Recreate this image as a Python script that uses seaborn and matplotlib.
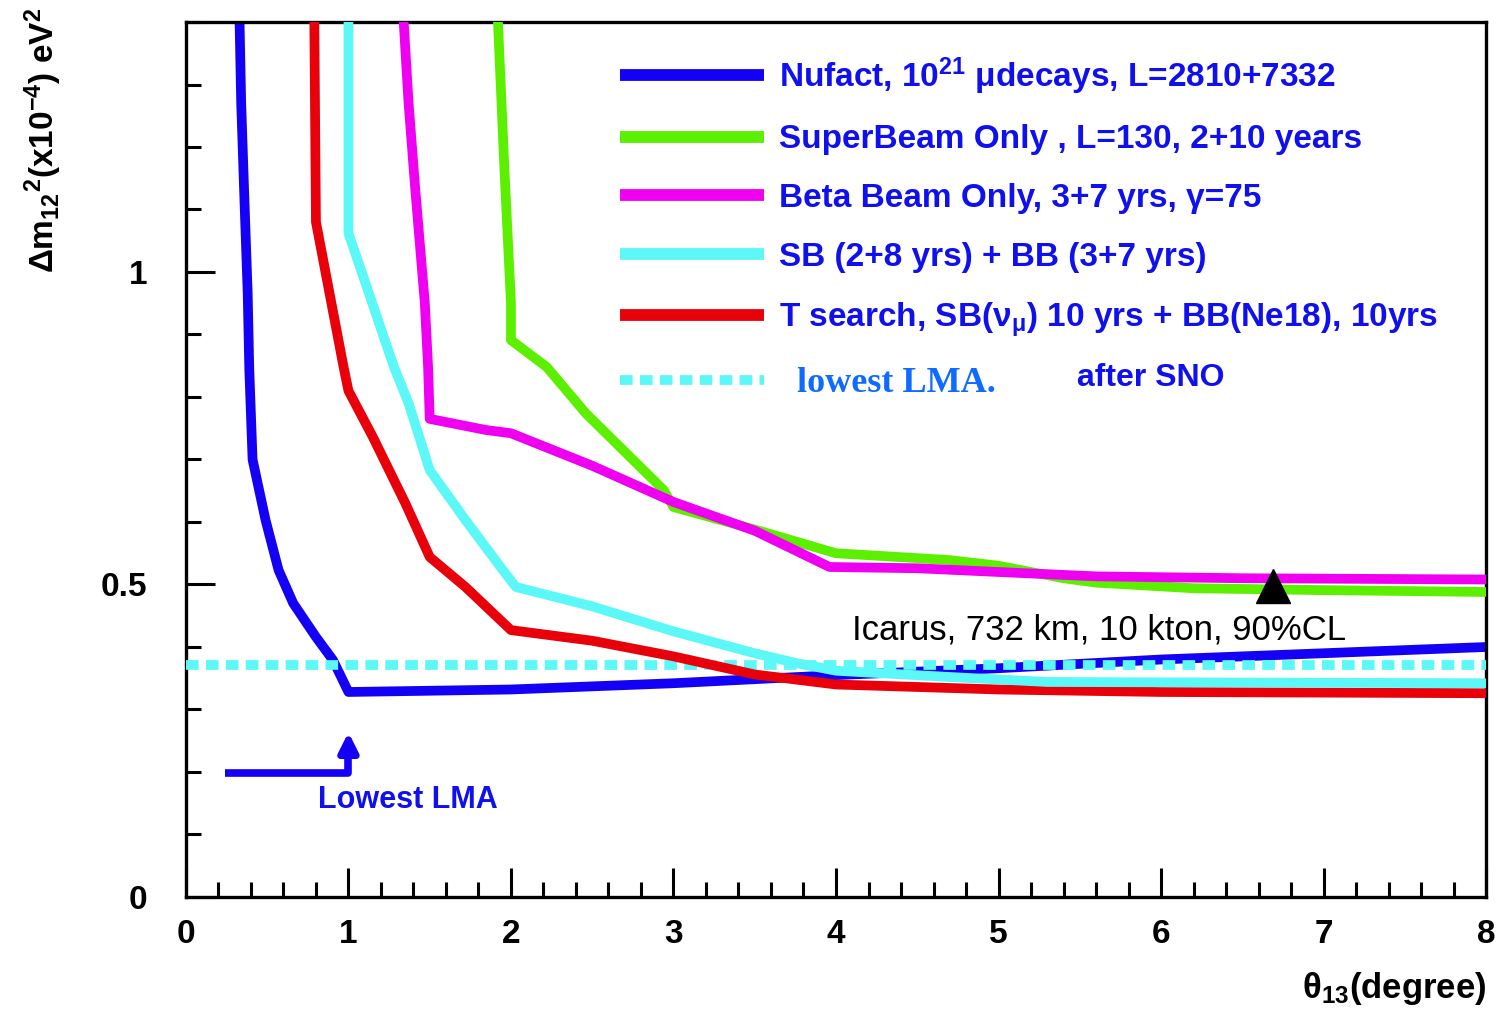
import numpy as np
import pandas as pd
import seaborn as sns
import matplotlib
import matplotlib.pyplot as plt
from matplotlib.lines import Line2D
from matplotlib.ticker import MultipleLocator

# ---------------- data ----------------
nufact_x = [0.33, 0.34, 0.36, 0.38, 0.39, 0.41, 0.49, 0.57, 0.66, 0.80, 0.905, 1.0, 2.0, 3.0, 4.0, 5.0, 6.0, 7.0, 8.0]
nufact_y = [1.40, 1.27, 1.115, 0.966, 0.843, 0.70, 0.603, 0.523, 0.47, 0.416, 0.379, 0.328, 0.332, 0.342, 0.355, 0.366, 0.380, 0.390, 0.400]

sb_x = [1.92, 1.96, 2.0, 2.0, 2.22, 2.46, 2.94, 3.0, 3.5, 4.0, 4.7, 5.0, 5.4, 5.6, 6.2, 7.0, 8.0]
sb_y = [1.40, 1.163, 0.95, 0.891, 0.848, 0.774, 0.651, 0.624, 0.588, 0.550, 0.539, 0.530, 0.510, 0.503, 0.494, 0.491, 0.488]

bb_x = [1.34, 1.37, 1.41, 1.47, 1.49, 1.50, 1.85, 2.0, 2.5, 3.0, 3.5, 3.96, 4.5, 5.0, 5.6, 6.5, 8.0]
bb_y = [1.40, 1.27, 1.136, 0.95, 0.848, 0.765, 0.747, 0.742, 0.690, 0.632, 0.586, 0.528, 0.526, 0.520, 0.513, 0.510, 0.508]

sbbb_x = [1.0, 1.0, 1.28, 1.37, 1.50, 1.72, 1.95, 2.03, 2.5, 3.0, 3.5, 3.76, 4.0, 4.7, 5.3, 8.0]
sbbb_y = [1.40, 1.062, 0.848, 0.79, 0.683, 0.603, 0.523, 0.496, 0.465, 0.425, 0.390, 0.374, 0.362, 0.352, 0.344, 0.342]

tsearch_x = [0.79, 0.80, 0.97, 1.0, 1.15, 1.35, 1.50, 1.72, 2.0, 2.5, 3.0, 3.5, 4.0, 5.0, 6.0, 7.0, 8.0]
tsearch_y = [1.40, 1.08, 0.848, 0.81, 0.736, 0.63, 0.544, 0.496, 0.427, 0.41, 0.385, 0.356, 0.340, 0.332, 0.328, 0.327, 0.326]

lowest_lma = 0.371
icarus_x = [6.69]
icarus_y = [0.497]
arrow_x = [0.24, 1.0, 1.0]
arrow_y = [0.198, 0.198, 0.24]
arrow_tip = (1.0, 0.268)

labels = [
    "Nufact, 10$^{21}$ \u03bcdecays, L=2810+7332",
    "SuperBeam Only , L=130, 2+10 years",
    "Beta Beam Only, 3+7 yrs, \u03b3=75",
    "SB (2+8 yrs) + BB (3+7 yrs)",
    "T search, SB(\u03bd$_{\u03bc}$) 10 yrs + BB(Ne18), 10yrs",
    "lowest LMA.",
]
x_ticks = [0, 1, 2, 3, 4, 5, 6, 7, 8]
y_ticks = [0, 0.5, 1]
y_tick_labels = ["0", "0.5", "1"]

# ---------------- style ----------------
sns.set_theme(style="white")
plt.rcParams['font.family'] = ['Liberation Sans', 'DejaVu Sans']
plt.rcParams['mathtext.fontset'] = 'custom'
plt.rcParams['mathtext.rm'] = 'Liberation Sans'
plt.rcParams['mathtext.it'] = 'Liberation Sans'
plt.rcParams['mathtext.bf'] = 'Liberation Sans:bold'
plt.rcParams['mathtext.default'] = 'regular'
plt.rcParams['text.color'] = 'black'
plt.rcParams['axes.labelcolor'] = 'black'
plt.rcParams['xtick.color'] = 'black'
plt.rcParams['ytick.color'] = 'black'

c_blue = '#1400f5'
c_green = '#5cf000'
c_mag = '#f000f0'
c_cyan = '#5cf8f8'
c_red = '#e8000a'
txt_blue = '#1010ee'

fig = plt.figure(figsize=(14.97, 10.14), dpi=100)
ax = fig.add_axes([0.1242, 0.1154, 0.8685, 0.8629])

lw = 7.0
sns.lineplot(x=nufact_x, y=nufact_y, sort=False, estimator=None, color=c_blue, lw=lw, ax=ax, zorder=2)
ax.axhline(lowest_lma, color=c_cyan, lw=lw, linestyle=(0, (1.3, 0.75)), zorder=3)
sns.lineplot(x=sb_x, y=sb_y, sort=False, estimator=None, color=c_green, lw=lw, ax=ax, zorder=4)
sns.lineplot(x=bb_x, y=bb_y, sort=False, estimator=None, color=c_mag, lw=lw, ax=ax, zorder=5)
sns.lineplot(x=tsearch_x, y=tsearch_y, sort=False, estimator=None, color=c_red, lw=lw, ax=ax, zorder=6)
sns.lineplot(x=sbbb_x, y=sbbb_y, sort=False, estimator=None, color=c_cyan, lw=lw, ax=ax, zorder=7)

# Icarus marker and label
ax.plot(icarus_x, icarus_y, marker='^', color='black', markersize=24, linestyle='none', zorder=8)
ax.text(4.10, 0.427, "Icarus, 732 km, 10 kton, 90%CL", fontsize=25, color='black',
        ha='left', va='center', family=['Liberation Sans', 'DejaVu Sans'])

# Lowest LMA arrow
ax.plot(arrow_x, arrow_y, color=c_blue, lw=5.5, solid_capstyle='butt', zorder=8)
ax.annotate('', xy=arrow_tip, xytext=(1.0, 0.22),
            arrowprops=dict(arrowstyle='-|>', color=c_blue, lw=5.0, mutation_scale=28))
ax.text(0.81, 0.155, "Lowest LMA", fontsize=22, fontweight='bold', color=txt_blue,
        ha='left', va='center')

# axes
ax.set_xlim(0, 8)
ax.set_ylim(0, 1.4)
ax.set_xticks(x_ticks)
ax.set_xticklabels([str(t) for t in x_ticks])
ax.set_yticks(y_ticks)
ax.set_yticklabels(y_tick_labels)
ax.xaxis.set_minor_locator(MultipleLocator(0.2))
ax.yaxis.set_minor_locator(MultipleLocator(0.1))
ax.tick_params(which='both', direction='in', bottom=True, left=True, top=False, right=False,
               width=2.2, color='black', labelcolor='black')
ax.tick_params(which='major', length=21)
ax.tick_params(which='minor', length=10.5)
ax.tick_params(axis='x', which='major', pad=16, labelsize=24)
ax.tick_params(axis='y', which='major', pad=28, labelsize=24)
for t in ax.get_xticklabels() + ax.get_yticklabels():
    t.set_fontweight('bold')
for s in ax.spines.values():
    s.set_linewidth(2.4)
    s.set_color('black')
    s.set_visible(True)

ax.set_ylabel("\u0394m$_{12}$$^{2}$(x10$^{-4}$) eV$^{2}$", fontsize=24, fontweight='bold', loc='top')
ax.yaxis.set_label_coords(-0.094, 1.016)
ax.set_xlabel("\u03b8$_{13}$(degree)", fontsize=25, fontweight='bold', loc='right')
ax.xaxis.set_label_coords(1.0, -0.083)

# legend
handles = [
    Line2D([], [], color=c_blue, lw=8.5, solid_capstyle='butt'),
    Line2D([], [], color=c_green, lw=8.5, solid_capstyle='butt'),
    Line2D([], [], color=c_mag, lw=8.5, solid_capstyle='butt'),
    Line2D([], [], color=c_cyan, lw=8.5, solid_capstyle='butt'),
    Line2D([], [], color=c_red, lw=8.5, solid_capstyle='butt'),
    Line2D([], [], color=c_cyan, lw=7.0, linestyle=(0, (1.3, 0.75))),
]
leg = ax.legend(handles, labels, loc='upper left', bbox_to_anchor=(0.334, 0.962),
                frameon=False, handlelength=4.3, handletextpad=0.45, labelspacing=0.83,
                borderpad=0, borderaxespad=0,
                prop=dict(family=['Liberation Sans', 'DejaVu Sans'],
                          weight='bold', size=24))
for t in leg.get_texts():
    t.set_color(txt_blue)
lt = leg.get_texts()[5]
lt.set_family(['Liberation Serif', 'DejaVu Serif'])
lt.set_color('#0f6bff')
lt.set_size(26)
lt.set_text("  lowest LMA.")

ax.text(5.48, 0.83, "after SNO", fontsize=23, fontweight='bold', color=txt_blue,
        ha='left', va='center', family=['Liberation Sans', 'DejaVu Sans'])

fig.savefig("out.png", dpi=100, facecolor='white')
